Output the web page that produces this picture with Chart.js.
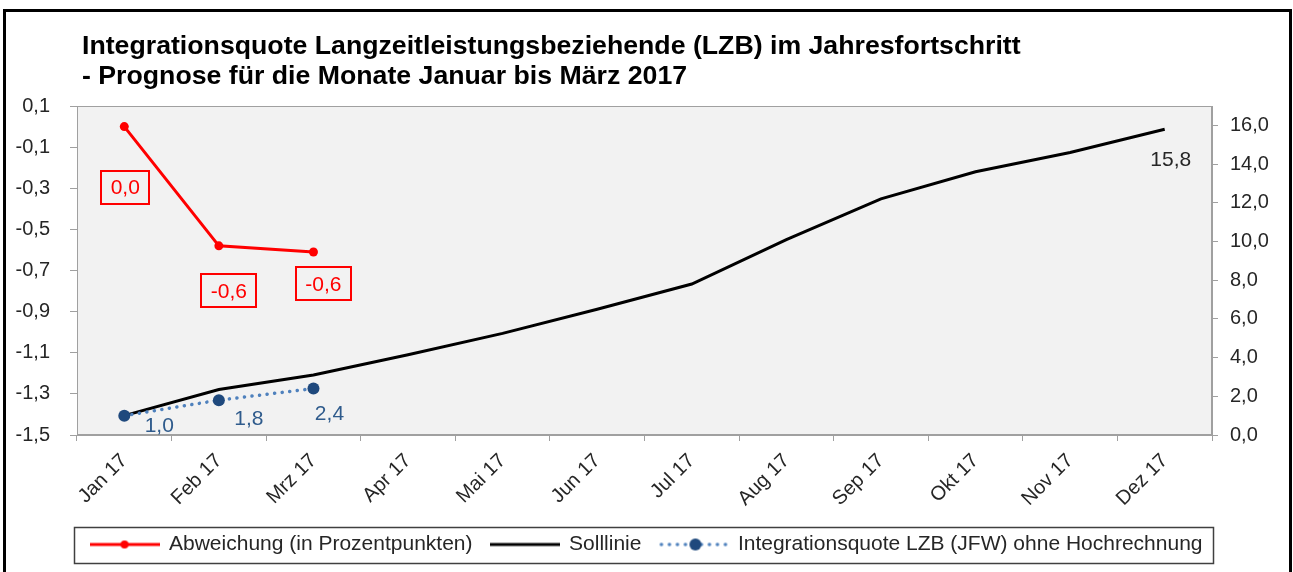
<!DOCTYPE html>
<html><head><meta charset="utf-8">
<script src="https://cdn.jsdelivr.net/npm/chart.js@4.4.1/dist/chart.umd.min.js"></script>
<style>
html,body{margin:0;padding:0;background:#fff;overflow:hidden;}
#wrap{position:relative;width:1293px;height:572px;}
#frame{position:absolute;left:3px;top:9px;width:1289px;height:600px;border:3px solid #000;box-sizing:border-box;}
#title{position:absolute;left:82px;top:30px;font:bold 26.7px 'Liberation Sans',Arial,sans-serif;line-height:30px;color:#000;white-space:nowrap;}
canvas{position:absolute;left:0;top:0;}
</style></head>
<body><div id="wrap">
<div id="frame"></div>
<canvas id="c" width="1293" height="572"></canvas>
<div id="title">Integrationsquote Langzeitleistungsbeziehende (LZB) im Jahresfortschritt<br>- Prognose für die Monate Januar bis März 2017</div>
</div>
<script>
const months = ['Jan 17','Feb 17','Mrz 17','Apr 17','Mai 17','Jun 17','Jul 17','Aug 17','Sep 17','Okt 17','Nov 17','Dez 17'];
const abweichung = [0.0, -0.58, -0.61];
const sollLinie = [1.0, 2.35, 3.1, 4.15, 5.25, 6.5, 7.8, 10.1, 12.2, 13.6, 14.6, 15.8];
const integrationsquote = [1.0, 1.8, 2.4];
const seriesNames = ['Abweichung (in Prozentpunkten)', 'Solllinie', 'Integrationsquote LZB (JFW) ohne Hochrechnung'];
const leftAxis = {min: -1.5, max: 0.1, step: 0.2};
const rightAxis = {min: 0, max: 17, step: 2};

const FONT = "'Liberation Sans', Arial, sans-serif";
const fmt = v => v.toFixed(1).replace('.', ',').replace(/^-0,0$/, '0,0');

function sym(type){
  const c = document.createElement('canvas'); c.width = 70; c.height = 14;
  const g = c.getContext('2d');
  if (type === 0) {
    g.strokeStyle = '#ff0000'; g.lineWidth = 3; g.beginPath(); g.moveTo(0,7); g.lineTo(70,7); g.stroke();
    g.fillStyle = '#ff0000'; g.beginPath(); g.arc(35,7,4,0,Math.PI*2); g.fill();
  } else if (type === 1) {
    g.strokeStyle = '#000'; g.lineWidth = 3; g.beginPath(); g.moveTo(0,7); g.lineTo(70,7); g.stroke();
  } else {
    g.fillStyle = '#4f81bd';
    for (let x = 3; x < 70; x += 8) { if (Math.abs(x-37) > 5) { g.beginPath(); g.arc(x,7,1.8,0,Math.PI*2); g.fill(); } }
    g.fillStyle = '#1f497d'; g.beginPath(); g.arc(37,7,6,0,Math.PI*2); g.fill();
  }
  return c;
}
const syms = [sym(0), sym(1), sym(2)];

// label styling (offsets from the point, in px)
const labelStyle = {
  0: {color:'#ff0000', box:true, offsets:[[1,61],[10,45],[10,32]], all:true},
  1: {color:'#262626', box:false, offsets:{11:[6,30]}, only:[11]},
  2: {color:'#2f5b8c', box:false, offsets:[[35,10],[30,18],[16,25]], all:true}
};

const bgPlugin = {
  id:'bg',
  beforeDraw(chart){
    const {ctx, chartArea:a} = chart;
    ctx.save(); ctx.fillStyle = '#f2f2f2'; ctx.fillRect(a.left, a.top, a.right-a.left, a.bottom-a.top);
    ctx.strokeStyle = '#a0a0a0'; ctx.lineWidth = 1;
    ctx.strokeRect(a.left+0.5, a.top+0.5, a.right-a.left-1, a.bottom-a.top-1);
    ctx.restore();
  }
};
const labelPlugin = {
  id:'lbl',
  afterDatasetsDraw(chart){
    const ctx = chart.ctx;
    ctx.save();
    ctx.font = '21px ' + FONT; ctx.textAlign = 'center'; ctx.textBaseline = 'middle';
    chart.data.datasets.forEach((ds, di) => {
      const st = labelStyle[di]; const meta = chart.getDatasetMeta(di);
      meta.data.forEach((pt, i) => {
        if (ds.data[i] == null) return;
        if (!st.all && !st.only.includes(i)) return;
        const off = st.offsets[i];
        const x = pt.x + off[0], y = pt.y + off[1];
        const t = fmt(ds.data[i]);
        ctx.fillStyle = st.color;
        ctx.fillText(t, x, y+1);
        if (st.box) {
          const w = ctx.measureText(t).width + 19, h = 33;
          ctx.strokeStyle = st.color; ctx.lineWidth = 2;
          ctx.strokeRect(Math.round(x - w/2), Math.round(y - h/2), Math.round(w), h);
        }
      });
    });
    ctx.restore();
  }
};
const legendBox = {
  id:'legbox',
  afterDraw(chart){
    const lg = chart.legend; if (!lg || !lg.legendHitBoxes.length) return;
    const hb = lg.legendHitBoxes; const first = hb[0], last = hb[hb.length-1];
    const cy = first.top + first.height/2;
    const ctx = chart.ctx; ctx.save();
    ctx.strokeStyle = '#404040'; ctx.lineWidth = 1.5;
    ctx.strokeRect(Math.round(first.left - 17)+0.5, Math.round(cy - 18)+0.5, Math.round(last.left + last.width + 10 - (first.left - 17)), 36);
    ctx.restore();
  }
};

new Chart(document.getElementById('c'), {
  type:'line',
  data:{
    labels: months,
    datasets:[
      {label: seriesNames[0], data: abweichung, yAxisID:'yL', borderColor:'#ff0000', backgroundColor:'#ff0000', borderWidth:3, pointRadius:4.5, pointBackgroundColor:'#ff0000', pointBorderWidth:0, tension:0, order:0},
      {label: seriesNames[1], data: sollLinie, yAxisID:'yR', borderColor:'#000', backgroundColor:'#000', borderWidth:3, pointRadius:0, tension:0, order:2},
      {label: seriesNames[2], data: integrationsquote, yAxisID:'yR', borderColor:'#4f81bd', backgroundColor:'#1f497d', borderWidth:3.5, borderDash:[0.1,7.5], borderCapStyle:'round', pointRadius:6, pointBackgroundColor:'#1f497d', pointBorderWidth:0, tension:0, order:1}
    ]
  },
  options:{
    responsive:false, animation:false, devicePixelRatio:1,
    layout:{padding:{top:106, left:0, right:0, bottom:7}},
    plugins:{
      title:{display:false}, tooltip:{enabled:false},
      legend:{
        position:'bottom', align:'center',
        labels:{
          usePointStyle:true, pointStyleWidth:68, boxHeight:21, padding:18,
          font:{family:FONT, size:21}, color:'#262626',
          generateLabels(chart){
            return chart.data.datasets.map((ds,i)=>({text:ds.label, pointStyle:syms[i], fillStyle:'rgba(0,0,0,0)', strokeStyle:'rgba(0,0,0,0)', lineWidth:0, hidden:false, datasetIndex:i, fontColor:'#262626'}));
          }
        }
      }
    },
    scales:{
      x:{
        type:'category', offset:true,
        grid:{offset:true, drawOnChartArea:false, drawTicks:true, tickLength:6, color:'#a0a0a0'},
        border:{display:true, color:'#a0a0a0'},
        ticks:{minRotation:45, maxRotation:45, autoSkip:false, padding:8, color:'#262626', font:{family:FONT, size:20}},
        afterFit(s){ s.height = 81; }
      },
      yL:{
        type:'linear', position:'left', min:leftAxis.min, max:leftAxis.max,
        grid:{drawOnChartArea:false, drawTicks:true, tickLength:7, color:'#a0a0a0'},
        border:{display:true, color:'#a0a0a0'},
        ticks:{stepSize:leftAxis.step, padding:20, color:'#262626', font:{family:FONT, size:20}, callback:v=>fmt(v)},
        afterFit(s){ s.width = 77; }
      },
      yR:{
        type:'linear', position:'right', min:rightAxis.min, max:rightAxis.max,
        grid:{drawOnChartArea:false, drawTicks:true, tickLength:6, color:'#a0a0a0'},
        border:{display:true, color:'#a0a0a0'},
        ticks:{stepSize:rightAxis.step, includeBounds:false, padding:12, color:'#262626', font:{family:FONT, size:20}, callback:v=>fmt(v)},
        afterFit(s){ s.width = 81; }
      }
    }
  },
  plugins:[bgPlugin, labelPlugin, legendBox]
});
</script>
</body></html>
